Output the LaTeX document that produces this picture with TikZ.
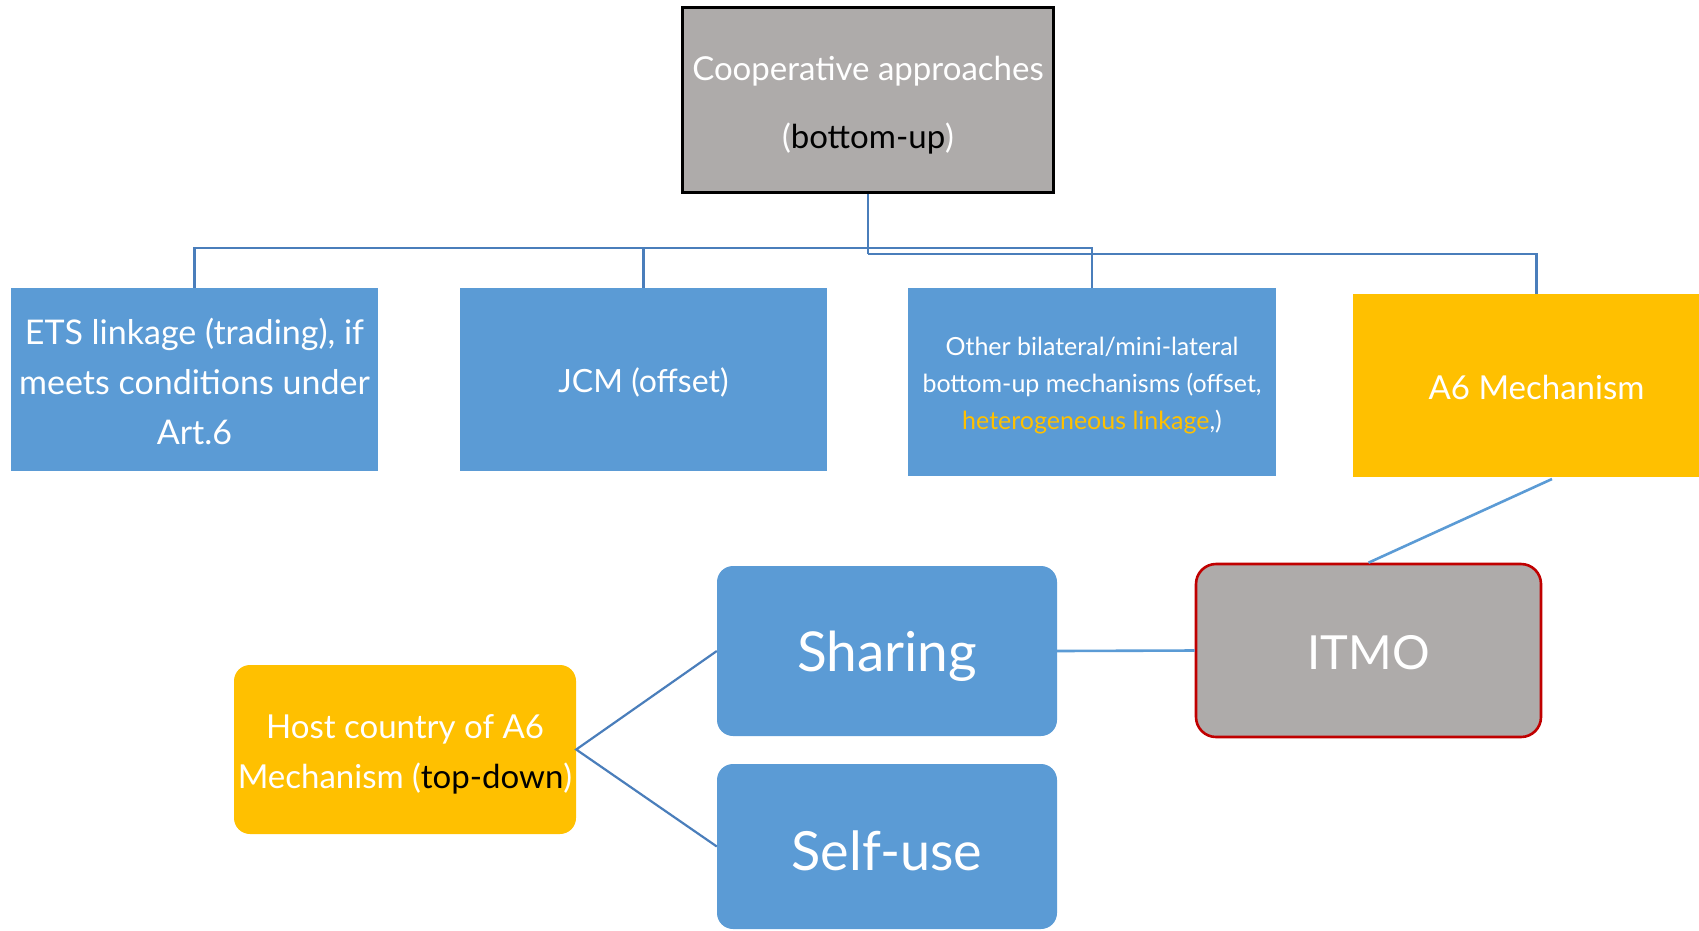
\documentclass[tikz,border=0pt]{standalone}
\usepackage{fontspec}
\setmainfont{Lato}
\definecolor{boxblue}{HTML}{5B9BD5}
\definecolor{gold}{HTML}{FFC000}
\definecolor{greybox}{HTML}{AEABAA}
\definecolor{linkblue}{HTML}{4A7EBB}
\definecolor{darkred}{HTML}{C00000}
\begin{document}
\begin{tikzpicture}[x=1pt,y=-1pt,
  sq/.style={rectangle, inner sep=0pt},
  bluesq/.style={sq, fill=boxblue},
  rnd/.style={rectangle, rounded corners=16pt, inner sep=0pt},
  txt/.style={inner sep=0pt, align=center, text=white},
  tree/.style={draw=linkblue, line width=2.6pt},
  lite/.style={draw=boxblue, line width=2.6pt}]
\useasboundingbox (0,0) rectangle (1699,930);

% top
\node[sq, fill=greybox, draw=black, line width=2.6pt, minimum width=371pt, minimum height=185pt] (top) at (868,100) {};
\node[txt, font=\fontsize{33}{68}\selectfont] (toptxt) at ([yshift=-5pt]top.center)
  {Cooperative approaches\\(\textcolor{black}{bottom-up})};

% second row
\node[bluesq, minimum width=367pt, minimum height=183pt] (ets) at (194.5,379.5) {};
\node[txt, font=\fontsize{34}{50}\selectfont] (etstxt) at ([yshift=-2pt]ets.center)
  {ETS linkage (trading), if\\meets conditions under\\Art.6};
\node[bluesq, minimum width=367pt, minimum height=183pt] (jcm) at (643.5,379.5) {};
\node[txt, font=\fontsize{32}{50}\selectfont] (jcmtxt) at ([yshift=-3pt]jcm.center) {JCM (offset)};
\node[bluesq, minimum width=368pt, minimum height=188pt] (oth) at (1092,382) {};
\node[txt, font=\fontsize{25}{37}\selectfont] (othtxt) at ([yshift=-4pt]oth.center)
  {Other bilateral/mini-lateral\\bottom-up mechanisms (offset,\\\textcolor{gold}{heterogeneous linkage},)};
\node[sq, fill=gold, minimum width=367pt, minimum height=183pt] (a6) at (1536.5,385.5) {};
\node[txt, font=\fontsize{33}{50}\selectfont] (a6txt) at ([yshift=-2pt]a6.center) {A6 Mechanism};

% bus
\coordinate (bus) at (868,248);
\coordinate (bus2) at (868,254);
\draw[tree] (top.south) -- (bus2);
\draw[tree] (bus) -| (ets.north);
\draw[tree] (bus) -| (jcm.north);
\draw[tree] (bus) -| (oth.north);
\draw[tree] (bus2) -| (a6.north);

% lower part
\node[rnd, fill=greybox, draw=darkred, line width=2.6pt, rounded corners=20pt,
  minimum width=345pt, minimum height=173pt] (itmo) at (1368.5,650.5) {};
\node[txt, font=\fontsize{47}{60}\selectfont] (itmotxt) at ([yshift=-2pt]itmo.center) {ITMO};
\node[rnd, fill=boxblue, minimum width=340pt, minimum height=170pt] (sha) at (887,651) {};
\node[txt, font=\fontsize{55}{60}\selectfont] (shatxt) at ([yshift=-5pt]sha.center) {Sharing};
\node[rnd, fill=boxblue, minimum width=340pt, minimum height=165pt] (self) at (887,846.5) {};
\node[txt, font=\fontsize{54}{60}\selectfont] (selftxt) at ([yshift=-4pt]self.center) {Self-use};
\node[rnd, fill=gold, minimum width=342pt, minimum height=169pt] (host) at (405,749.5) {};
\node[txt, font=\fontsize{33}{50}\selectfont] (hosttxt) at ([yshift=-5pt]host.center)
  {Host country of A6\\Mechanism (\textcolor{black}{top-down})};

\coordinate (a6b) at (1552,479);
\draw[lite] (a6b) -- (itmo.north);
\draw[lite] (sha.east) -- (itmo.west);
\draw[tree, line width=2.2pt] (sha.west) -- (host.east) -- (self.west);
\end{tikzpicture}
\end{document}
